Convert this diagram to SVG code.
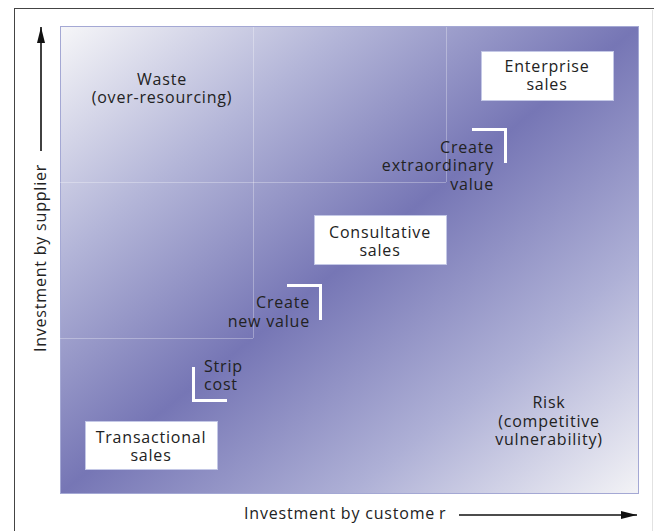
<svg xmlns="http://www.w3.org/2000/svg" width="654" height="531" viewBox="0 0 654 531">
  <defs>
    <linearGradient id="bg" x1="0" y1="0" x2="1" y2="1">
      <stop offset="0" stop-color="#f6f6f8"/>
      <stop offset="0.25" stop-color="#b3b5d8"/>
      <stop offset="0.5" stop-color="#7676b5"/>
      <stop offset="0.75" stop-color="#aeb0d6"/>
      <stop offset="1" stop-color="#f3f3f6"/>
    </linearGradient>
    <marker id="ah" viewBox="0 0 10 10" refX="10" refY="5" markerWidth="16" markerHeight="8" markerUnits="userSpaceOnUse" orient="auto" preserveAspectRatio="none">
      <path d="M0,0 L10,5 L0,10 z" fill="#111"/>
    </marker>
    <style>
      text { font-family: "Open Sans", "Liberation Sans", sans-serif; font-size: 16px; letter-spacing: 0.8px; fill: #222; }
      .c { text-anchor: middle; }
      .r { text-anchor: end; }
      .box { fill: #ffffff; stroke: #c4c8e6; stroke-width: 1; }
      .grid { stroke: #ffffff; stroke-opacity: 0.3; stroke-width: 1; fill: none; }
      .br { stroke: #ffffff; stroke-width: 3; fill: none; }
      .axis { stroke: #111; stroke-width: 1.6; fill: none; }
    </style>
  </defs>

  <rect width="654" height="531" fill="#ffffff"/>
  <line x1="14" y1="8.5" x2="654" y2="8.5" stroke="#444" stroke-width="1"/>
  <line x1="14.5" y1="8" x2="14.5" y2="531" stroke="#444" stroke-width="1"/>
  <line x1="652.5" y1="10" x2="652.5" y2="531" stroke="#e2e2e2" stroke-width="1"/>

  <g id="plot">
    <rect x="60.5" y="26.5" width="578" height="467" fill="url(#bg)" stroke="#a4a8d4" stroke-width="1"/>
    <path class="grid" d="M253.5,27 V338 M446.5,27 V182 M60,182.5 H446 M60,338.5 H253"/>
  </g>

  <g id="quadrant-labels">
    <text class="c" x="162" y="85">Waste</text>
    <text class="c" x="162" y="103">(over-resourcing)</text>
    <text class="c" x="549" y="408">Risk</text>
    <text class="c" x="549" y="427">(competitive</text>
    <text class="c" x="549" y="445">vulnerability)</text>
  </g>

  <g id="enterprise">
    <rect class="box" x="481.5" y="51.5" width="132" height="49"/>
    <text class="c" x="547" y="72">Enterprise</text>
    <text class="c" x="547" y="90">sales</text>
  </g>

  <g id="consultative">
    <rect class="box" x="314.5" y="215.5" width="132" height="49"/>
    <text class="c" x="380" y="238">Consultative</text>
    <text class="c" x="380" y="256">sales</text>
  </g>

  <g id="transactional">
    <rect class="box" x="85.5" y="421.5" width="132" height="48"/>
    <text class="c" x="151" y="443">Transactional</text>
    <text class="c" x="151" y="461">sales</text>
  </g>

  <g id="connectors">
    <path class="br" d="M472,129.5 H505.5 V163"/>
    <path class="br" d="M287,285.5 H320.5 V320"/>
    <path class="br" d="M193.5,367 V400.5 H227"/>
  </g>

  <g id="step-labels">
    <text class="r" x="494" y="153">Create</text>
    <text class="r" x="494" y="171">extraordinary</text>
    <text class="r" x="494" y="190">value</text>
    <text class="r" x="310" y="308">Create</text>
    <text class="r" x="310" y="327">new value</text>
    <text x="204" y="372">Strip</text>
    <text x="204" y="390">cost</text>
  </g>

  <g id="axes">
    <line class="axis" x1="41" y1="151" x2="41" y2="27" marker-end="url(#ah)"/>
    <line class="axis" x1="459" y1="515" x2="637" y2="515" marker-end="url(#ah)"/>
    <text class="c" transform="translate(46,258) rotate(-90)">Investment by supplier</text>
    <text x="244" y="519">Investment by custome<tspan dx="4">r</tspan></text>
  </g>
</svg>
